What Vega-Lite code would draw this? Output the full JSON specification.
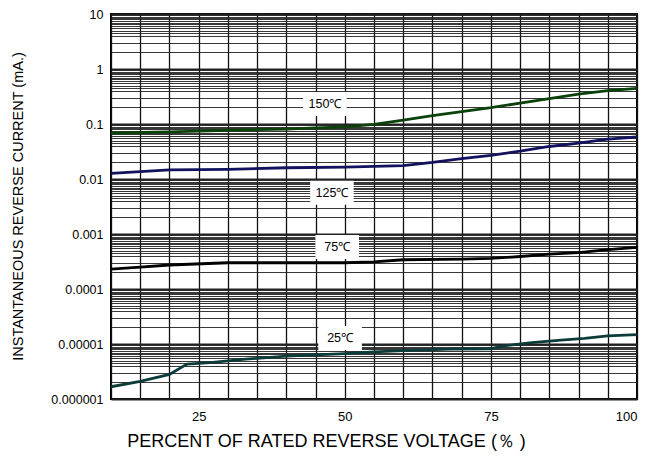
{
  "$schema": "https://vega.github.io/schema/vega-lite/v6.json",
  "width": 526,
  "height": 385,
  "autosize": "none",
  "padding": {"left": 111, "top": 14, "right": 12, "bottom": 62},
  "background": "white",
  "config": {
    "font": "Liberation Sans",
    "view": {"stroke": "black", "strokeWidth": 2},
    "axis": {"labelColor": "black", "titleColor": "black", "labelFont": "Liberation Sans", "titleFont": "Liberation Sans", "titleFontWeight": "normal"}
  },
  "datasets": {
    "curves": [
      {"temp": "150", "v": 10, "i": 0.068}, {"temp": "150", "v": 15, "i": 0.070}, {"temp": "150", "v": 20, "i": 0.072}, {"temp": "150", "v": 25, "i": 0.074}, {"temp": "150", "v": 30, "i": 0.077}, {"temp": "150", "v": 35, "i": 0.079}, {"temp": "150", "v": 40, "i": 0.081}, {"temp": "150", "v": 45, "i": 0.085}, {"temp": "150", "v": 50, "i": 0.089}, {"temp": "150", "v": 55, "i": 0.098}, {"temp": "150", "v": 60, "i": 0.118}, {"temp": "150", "v": 65, "i": 0.142}, {"temp": "150", "v": 70, "i": 0.168}, {"temp": "150", "v": 75, "i": 0.198}, {"temp": "150", "v": 80, "i": 0.24}, {"temp": "150", "v": 85, "i": 0.29}, {"temp": "150", "v": 90, "i": 0.35}, {"temp": "150", "v": 95, "i": 0.405}, {"temp": "150", "v": 100, "i": 0.446},
      {"temp": "125", "v": 10, "i": 0.0127}, {"temp": "125", "v": 15, "i": 0.0136}, {"temp": "125", "v": 20, "i": 0.0146}, {"temp": "125", "v": 25, "i": 0.0148}, {"temp": "125", "v": 30, "i": 0.015}, {"temp": "125", "v": 40, "i": 0.016}, {"temp": "125", "v": 50, "i": 0.0165}, {"temp": "125", "v": 60, "i": 0.0175}, {"temp": "125", "v": 65, "i": 0.02}, {"temp": "125", "v": 70, "i": 0.0235}, {"temp": "125", "v": 75, "i": 0.027}, {"temp": "125", "v": 80, "i": 0.032}, {"temp": "125", "v": 85, "i": 0.039}, {"temp": "125", "v": 90, "i": 0.045}, {"temp": "125", "v": 95, "i": 0.053}, {"temp": "125", "v": 100, "i": 0.058},
      {"temp": "75", "v": 10, "i": 0.00023}, {"temp": "75", "v": 15, "i": 0.00025}, {"temp": "75", "v": 20, "i": 0.000273}, {"temp": "75", "v": 30, "i": 0.0003}, {"temp": "75", "v": 40, "i": 0.0003}, {"temp": "75", "v": 50, "i": 0.0003}, {"temp": "75", "v": 55, "i": 0.00031}, {"temp": "75", "v": 60, "i": 0.00034}, {"temp": "75", "v": 70, "i": 0.00035}, {"temp": "75", "v": 75, "i": 0.00036}, {"temp": "75", "v": 80, "i": 0.00039}, {"temp": "75", "v": 85, "i": 0.00043}, {"temp": "75", "v": 90, "i": 0.00046}, {"temp": "75", "v": 95, "i": 0.00052}, {"temp": "75", "v": 100, "i": 0.00057},
      {"temp": "25", "v": 10, "i": 1.67e-6}, {"temp": "25", "v": 15, "i": 2.1e-6}, {"temp": "25", "v": 20, "i": 2.8e-6}, {"temp": "25", "v": 23, "i": 4.3e-6}, {"temp": "25", "v": 27, "i": 4.6e-6}, {"temp": "25", "v": 33, "i": 5.3e-6}, {"temp": "25", "v": 40, "i": 6.0e-6}, {"temp": "25", "v": 50, "i": 6.7e-6}, {"temp": "25", "v": 55, "i": 7.2e-6}, {"temp": "25", "v": 60, "i": 7.6e-6}, {"temp": "25", "v": 68, "i": 8.1e-6}, {"temp": "25", "v": 75, "i": 8.2e-6}, {"temp": "25", "v": 77.5, "i": 9.3e-6}, {"temp": "25", "v": 82, "i": 1.06e-5}, {"temp": "25", "v": 87, "i": 1.18e-5}, {"temp": "25", "v": 91, "i": 1.27e-5}, {"temp": "25", "v": 95, "i": 1.4e-5}, {"temp": "25", "v": 100, "i": 1.48e-5}
    ],
    "labels": [
      {"label": "150℃", "v": 46.6, "i": 0.23},
      {"label": "125℃", "v": 47.8, "i": 0.0056},
      {"label": "75℃", "v": 48.7, "i": 0.00058},
      {"label": "25℃", "v": 49.2, "i": 1.29e-5}
    ]
  },
  "encoding": {
    "x": {
      "field": "v", "type": "quantitative",
      "scale": {"domain": [10, 100], "nice": false, "zero": false},
      "axis": {
        "title": "PERCENT OF RATED REVERSE VOLTAGE (％ )",
        "values": [10, 15, 20, 25, 30, 35, 40, 45, 50, 55, 60, 65, 70, 75, 80, 85, 90, 95, 100],
        "labelExpr": "datum.value % 25 == 0 ? datum.label : ''",
        "grid": true, "gridColor": "#111", "gridWidth": 1.3, "gridOpacity": 1,
        "ticks": false, "domain": false,
        "labelFontSize": 13, "labelPadding": 11,
        "titleFontSize": 18, "titleX": 215, "titleY": 42, "titleBaseline": "middle", "titleAnchor": "middle", "titleAlign": "center"
      }
    },
    "y": {
      "field": "i", "type": "quantitative",
      "scale": {"type": "log", "domain": [1e-6, 10], "nice": false},
      "axis": {
        "title": "INSTANTANEOUS REVERSE CURRENT (mA.)",
        "values": [1e-6, 2e-6, 3e-6, 4e-6, 4.5e-6, 5e-6, 5.5e-6, 6e-6, 6.5e-6, 7e-6, 7.5e-6, 8e-6, 8.5e-6, 9e-6, 9.5e-6,
                   1e-5, 2e-5, 3e-5, 4e-5, 4.5e-5, 5e-5, 5.5e-5, 6e-5, 6.5e-5, 7e-5, 7.5e-5, 8e-5, 8.5e-5, 9e-5, 9.5e-5,
                   1e-4, 2e-4, 3e-4, 4e-4, 4.5e-4, 5e-4, 5.5e-4, 6e-4, 6.5e-4, 7e-4, 7.5e-4, 8e-4, 8.5e-4, 9e-4, 9.5e-4,
                   1e-3, 2e-3, 3e-3, 4e-3, 4.5e-3, 5e-3, 5.5e-3, 6e-3, 6.5e-3, 7e-3, 7.5e-3, 8e-3, 8.5e-3, 9e-3, 9.5e-3,
                   0.01, 0.02, 0.03, 0.04, 0.045, 0.05, 0.055, 0.06, 0.065, 0.07, 0.075, 0.08, 0.085, 0.09, 0.095,
                   0.1, 0.2, 0.3, 0.4, 0.45, 0.5, 0.55, 0.6, 0.65, 0.7, 0.75, 0.8, 0.85, 0.9, 0.95,
                   1, 2, 3, 4, 4.5, 5, 5.5, 6, 6.5, 7, 7.5, 8, 8.5, 9, 9.5, 10],
        "labelExpr": "abs(log(datum.value)/LN10 - round(log(datum.value)/LN10)) < 1e-6 ? format(datum.value, '.6~f') : ''",
        "grid": true, "gridColor": "#222", "gridOpacity": 1,
        "gridWidth": {"condition": {"test": "abs(log(datum.value)/LN10 - round(log(datum.value)/LN10)) < 1e-6", "value": 2.2}, "value": 0.9},
        "ticks": false, "domain": false,
        "labelFontSize": 12.5, "labelPadding": 8,
        "titleFontSize": 14.5, "titleX": -93, "titleY": 192, "titleAngle": -90, "titleBaseline": "middle", "titleAlign": "center"
      }
    }
  },
  "layer": [
    {
      "data": {"name": "curves"},
      "mark": {"type": "line", "strokeWidth": 2.8, "interpolate": "linear"},
      "encoding": {
        "color": {"field": "temp", "type": "nominal", "legend": null,
                  "scale": {"domain": ["150", "125", "75", "25"], "range": ["#0a420a", "#12125e", "#000000", "#0b3c39"]}}
      }
    },
    {
      "data": {"name": "labels"},
      "mark": {"type": "point", "shape": "M-1,-0.55H1V0.55H-1Z", "size": 1900, "filled": true, "fill": "white", "opacity": 1, "strokeWidth": 0}
    },
    {
      "data": {"name": "labels"},
      "mark": {"type": "text", "font": "Liberation Sans", "fontSize": 12.5, "color": "black", "align": "center", "baseline": "middle"},
      "encoding": {"text": {"field": "label"}}
    }
  ]
}
